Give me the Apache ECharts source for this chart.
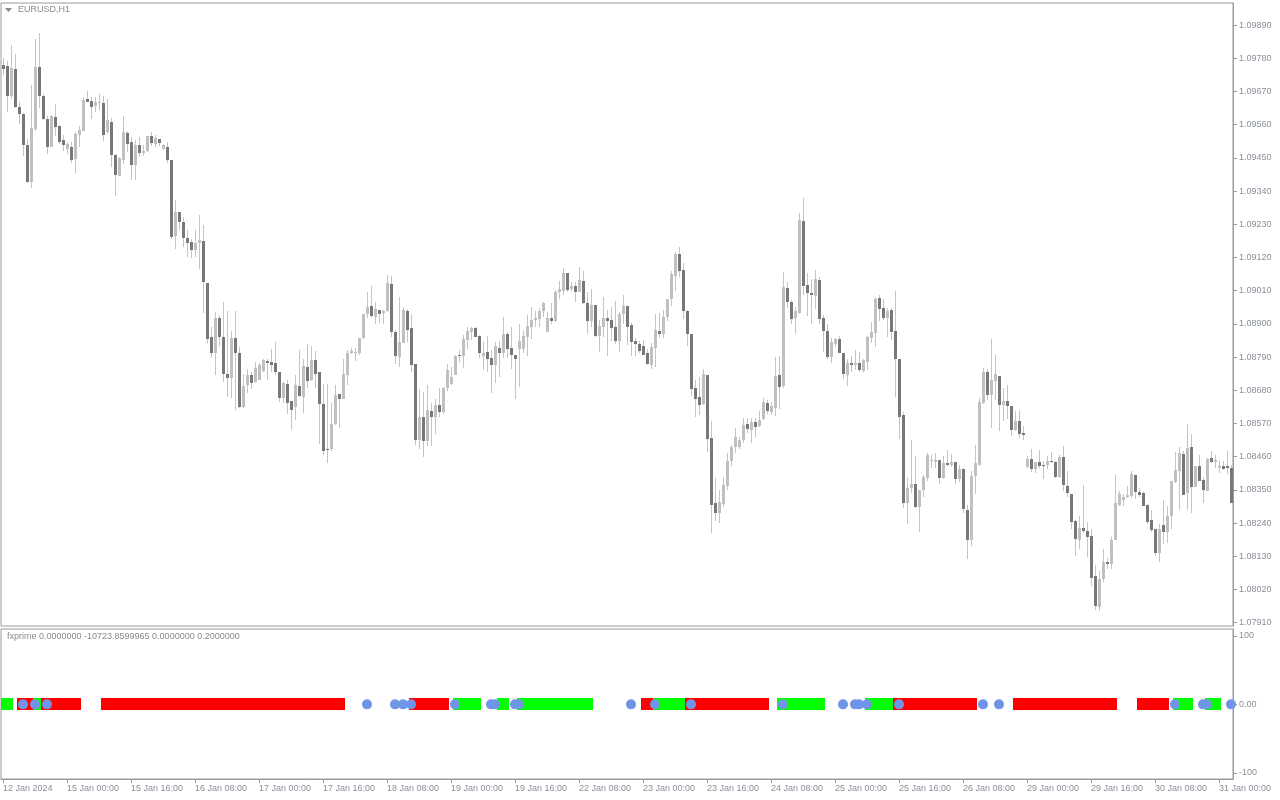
<!DOCTYPE html>
<html>
<head>
<meta charset="utf-8">
<script src="https://cdn.jsdelivr.net/npm/echarts@6/dist/echarts.min.js"></script>
<style>
html,body{margin:0;padding:0;background:#fff;}
#chart{width:1280px;height:800px;}
</style>
</head>
<body>
<div id="chart"></div>
<script>
// ---- Data (EURUSD H1, 12 Jan 2024 08:00 .. 31 Jan 2024 03:00) ----
const tickLabels = ['12 Jan 2024','15 Jan 00:00','15 Jan 16:00','16 Jan 08:00','17 Jan 00:00','17 Jan 16:00','18 Jan 08:00','19 Jan 00:00','19 Jan 16:00','22 Jan 08:00','23 Jan 00:00','23 Jan 16:00','24 Jan 08:00','25 Jan 00:00','25 Jan 16:00','26 Jan 08:00','29 Jan 00:00','29 Jan 16:00','30 Jan 08:00','31 Jan 00:00'];
const priceTicks = [1.07910,1.08020,1.08130,1.08240,1.08350,1.08460,1.08570,1.08680,1.08790,1.08900,1.09010,1.09120,1.09230,1.09340,1.09450,1.09560,1.09670,1.09780,1.09890];
const indicatorTicks = [-100, 0, 100];

const opens = [
1.09758,1.09754,1.09656,1.09744,1.09620,1.09595,1.09491,1.09371,1.09544,1.09751,
1.09656,1.09579,1.09487,1.09585,1.09556,1.09509,1.09480,1.09487,1.09446,1.09527,
1.09540,1.09645,1.09638,1.09623,1.09631,1.09633,1.09534,1.09569,1.09460,1.09391,
1.09443,1.09531,1.09504,1.09427,1.09491,1.09466,1.09473,1.09523,1.09496,1.09514,
1.09480,1.09487,1.09443,1.09191,1.09272,1.09236,1.09185,1.09171,1.09145,1.09169,
1.09176,1.09037,1.08856,1.08805,1.08920,1.08857,1.08734,1.08719,1.08853,1.08804,
1.08623,1.08696,1.08731,1.08709,1.08715,1.08745,1.08777,1.08774,1.08771,1.08741,
1.08656,1.08701,1.08644,1.08623,1.08694,1.08659,1.08757,1.08714,1.08781,1.08741,
1.08635,1.08486,1.08484,1.08569,1.08666,1.08652,1.08732,1.08802,1.08802,1.08805,
1.08853,1.08934,1.08959,1.08924,1.08947,1.08936,1.08941,1.09033,1.08873,1.08789,
1.08838,1.08943,1.08887,1.08768,1.08516,1.08592,1.08513,1.08612,1.08590,1.08632,
1.08608,1.08686,1.08701,1.08732,1.08797,1.08792,1.08845,1.08873,1.08887,1.08861,
1.08795,1.08807,1.08787,1.08764,1.08821,1.08805,1.08867,1.08820,1.08797,1.08817,
1.08817,1.08858,1.08891,1.08913,1.08917,1.08941,1.08874,1.08920,1.08911,1.09005,
1.09010,1.09070,1.09014,1.09026,1.09006,1.09043,1.08970,1.08908,1.08963,1.08861,
1.08891,1.08920,1.08912,1.08890,1.08844,1.08932,1.08959,1.08896,1.08844,1.08834,
1.08826,1.08804,1.08763,1.08821,1.08876,1.08867,1.08923,1.08981,1.09059,1.09131,
1.09078,1.08943,1.08866,1.08686,1.08657,1.08634,1.08730,1.08523,1.08307,1.08274,
1.08303,1.08363,1.08445,1.08493,1.08493,1.08515,1.08567,1.08548,1.08576,1.08562,
1.08584,1.08639,1.08608,1.08622,1.08730,1.08694,1.09019,1.08972,1.08919,1.08937,
1.09241,1.09028,1.09003,1.08993,1.09045,1.08920,1.08876,1.08791,1.08833,1.08849,
1.08804,1.08730,1.08771,1.08764,1.08771,1.08745,1.08774,1.08854,1.08870,1.08986,
1.08952,1.08921,1.08945,1.08876,1.08783,1.08598,1.08307,1.08355,1.08371,1.08294,
1.08351,1.08390,1.08445,1.08443,1.08449,1.08388,1.08440,1.08432,1.08441,1.08386,
1.08419,1.08283,1.08184,1.08396,1.08432,1.08639,1.08739,1.08664,1.08710,1.08727,
1.08631,1.08645,1.08627,1.08548,1.08579,1.08540,1.08426,1.08453,1.08420,1.08443,
1.08434,1.08433,1.08447,1.08443,1.08391,1.08460,1.08363,1.08337,1.08247,1.08183,
1.08224,1.08214,1.08197,1.08064,1.07962,1.08054,1.08112,1.08106,1.08184,1.08301,
1.08317,1.08325,1.08330,1.08400,1.08342,1.08338,1.08300,1.08250,1.08221,1.08142,
1.08234,1.08212,1.08262,1.08375,1.08411,1.08470,1.08339,1.08492,1.08361,1.08428,
1.08383,1.08347,1.08457,1.08442,1.08422,1.08430,1.08428,1.08424
];
const highs = [
1.09780,1.09771,1.09824,1.09794,1.09636,1.09598,1.09512,1.09691,1.09844,1.09865,
1.09660,1.09587,1.09592,1.09629,1.09559,1.09526,1.09504,1.09504,1.09537,1.09556,
1.09653,1.09672,1.09653,1.09653,1.09661,1.09655,1.09645,1.09581,1.09463,1.09452,
1.09587,1.09540,1.09518,1.09509,1.09518,1.09491,1.09524,1.09534,1.09526,1.09514,
1.09496,1.09504,1.09443,1.09311,1.09272,1.09255,1.09211,1.09180,1.09211,1.09261,
1.09228,1.09037,1.08889,1.08940,1.08928,1.08973,1.08944,1.08876,1.08944,1.08823,
1.08733,1.08750,1.08742,1.08772,1.08770,1.08783,1.08783,1.08818,1.08840,1.08741,
1.08709,1.08714,1.08644,1.08731,1.08814,1.08783,1.08834,1.08827,1.08810,1.08741,
1.08700,1.08700,1.08639,1.08696,1.08668,1.08785,1.08814,1.08821,1.08819,1.08853,
1.08934,1.09004,1.09026,1.08974,1.08947,1.08947,1.09062,1.09059,1.08880,1.08990,
1.08957,1.08948,1.08933,1.08768,1.08685,1.08675,1.08696,1.08638,1.08651,1.08688,
1.08692,1.08767,1.08758,1.08797,1.08814,1.08863,1.08891,1.08891,1.08889,1.08863,
1.08839,1.08859,1.08814,1.08841,1.08843,1.08923,1.08873,1.08889,1.08797,1.08900,
1.08880,1.08930,1.08957,1.08944,1.08952,1.08974,1.08940,1.08968,1.09012,1.09042,
1.09084,1.09070,1.09039,1.09040,1.09087,1.09075,1.09004,1.09016,1.08963,1.08913,
1.08990,1.08946,1.08956,1.08976,1.08940,1.08995,1.08959,1.08903,1.08852,1.08844,
1.08846,1.08818,1.08835,1.08934,1.08937,1.08945,1.08984,1.09075,1.09139,1.09153,
1.09100,1.08945,1.08866,1.08714,1.08725,1.08752,1.08730,1.08579,1.08390,1.08349,
1.08393,1.08473,1.08498,1.08554,1.08526,1.08589,1.08589,1.08587,1.08589,1.08611,
1.08653,1.08647,1.08642,1.08791,1.08793,1.09072,1.09039,1.08979,1.08956,1.09266,
1.09317,1.09069,1.09048,1.09080,1.09056,1.08929,1.08899,1.08852,1.08853,1.08860,
1.08804,1.08782,1.08793,1.08813,1.08807,1.08782,1.08860,1.08906,1.08990,1.08995,
1.08983,1.08953,1.08953,1.09008,1.08783,1.08608,1.08388,1.08515,1.08462,1.08351,
1.08399,1.08471,1.08465,1.08471,1.08449,1.08462,1.08482,1.08469,1.08443,1.08431,
1.08421,1.08300,1.08412,1.08498,1.08656,1.08754,1.08750,1.08849,1.08796,1.08727,
1.08686,1.08697,1.08627,1.08612,1.08616,1.08563,1.08463,1.08486,1.08442,1.08483,
1.08444,1.08463,1.08474,1.08444,1.08464,1.08496,1.08413,1.08337,1.08250,1.08265,
1.08365,1.08242,1.08219,1.08101,1.08082,1.08154,1.08125,1.08195,1.08400,1.08345,
1.08337,1.08363,1.08413,1.08400,1.08356,1.08342,1.08304,1.08284,1.08221,1.08236,
1.08317,1.08295,1.08380,1.08475,1.08492,1.08478,1.08568,1.08535,1.08430,1.08466,
1.08391,1.08455,1.08478,1.08464,1.08447,1.08447,1.08480,1.08433
];
const lows = [
1.09725,1.09603,1.09644,1.09615,1.09562,1.09457,1.09366,1.09351,1.09540,1.09616,
1.09575,1.09463,1.09485,1.09523,1.09496,1.09474,1.09463,1.09433,1.09401,1.09487,
1.09538,1.09634,1.09579,1.09603,1.09609,1.09507,1.09529,1.09421,1.09325,1.09390,
1.09430,1.09471,1.09377,1.09375,1.09454,1.09456,1.09471,1.09489,1.09485,1.09489,
1.09475,1.09432,1.09181,1.09147,1.09211,1.09156,1.09123,1.09117,1.09123,1.09081,
1.08937,1.08836,1.08786,1.08731,1.08827,1.08709,1.08659,1.08653,1.08613,1.08620,
1.08620,1.08672,1.08685,1.08703,1.08714,1.08742,1.08714,1.08742,1.08731,1.08641,
1.08639,1.08600,1.08550,1.08582,1.08659,1.08604,1.08687,1.08712,1.08687,1.08502,
1.08466,1.08438,1.08479,1.08564,1.08556,1.08650,1.08696,1.08800,1.08778,1.08797,
1.08851,1.08919,1.08924,1.08899,1.08903,1.08899,1.08939,1.08858,1.08767,1.08758,
1.08836,1.08841,1.08739,1.08497,1.08484,1.08460,1.08495,1.08495,1.08535,1.08593,
1.08602,1.08676,1.08697,1.08730,1.08772,1.08755,1.08817,1.08847,1.08855,1.08788,
1.08747,1.08739,1.08672,1.08704,1.08723,1.08786,1.08786,1.08750,1.08650,1.08692,
1.08803,1.08795,1.08851,1.08891,1.08889,1.08924,1.08872,1.08900,1.08906,1.08981,
1.08996,1.09007,1.09010,1.08974,1.09004,1.08965,1.08866,1.08891,1.08858,1.08808,
1.08858,1.08792,1.08844,1.08833,1.08807,1.08899,1.08831,1.08794,1.08794,1.08802,
1.08796,1.08763,1.08750,1.08758,1.08854,1.08852,1.08909,1.08959,1.09008,1.09056,
1.08915,1.08826,1.08661,1.08592,1.08597,1.08632,1.08476,1.08208,1.08248,1.08239,
1.08294,1.08349,1.08430,1.08473,1.08487,1.08504,1.08537,1.08504,1.08526,1.08559,
1.08581,1.08601,1.08597,1.08594,1.08619,1.08686,1.08953,1.08899,1.08867,1.08932,
1.08997,1.08927,1.08898,1.08948,1.08899,1.08807,1.08785,1.08771,1.08824,1.08802,
1.08716,1.08695,1.08741,1.08747,1.08741,1.08741,1.08747,1.08835,1.08822,1.08909,
1.08912,1.08857,1.08848,1.08658,1.08519,1.08289,1.08236,1.08338,1.08291,1.08209,
1.08327,1.08379,1.08423,1.08421,1.08369,1.08385,1.08429,1.08427,1.08371,1.08377,
1.08275,1.08120,1.08165,1.08335,1.08430,1.08634,1.08647,1.08556,1.08647,1.08546,
1.08579,1.08584,1.08529,1.08546,1.08523,1.08514,1.08424,1.08408,1.08406,1.08422,
1.08386,1.08419,1.08439,1.08389,1.08389,1.08345,1.08328,1.08221,1.08132,1.08155,
1.08206,1.08126,1.08032,1.07953,1.07949,1.08045,1.08088,1.08088,1.08184,1.08295,
1.08295,1.08322,1.08322,1.08319,1.08325,1.08295,1.08237,1.08212,1.08132,1.08112,
1.08170,1.08173,1.08221,1.08372,1.08284,1.08334,1.08284,1.08273,1.08358,1.08380,
1.08308,1.08346,1.08439,1.08422,1.08406,1.08417,1.08403,1.08306
];
const closes = [
1.09744,1.09656,1.09747,1.09620,1.09594,1.09491,1.09371,1.09549,1.09751,1.09656,
1.09578,1.09487,1.09589,1.09553,1.09504,1.09491,1.09496,1.09444,1.09530,1.09542,
1.09642,1.09636,1.09620,1.09635,1.09636,1.09526,1.09576,1.09460,1.09393,1.09450,
1.09534,1.09496,1.09427,1.09493,1.09465,1.09474,1.09523,1.09498,1.09517,1.09500,
1.09492,1.09443,1.09189,1.09272,1.09236,1.09183,1.09167,1.09145,1.09169,1.09179,
1.09040,1.08850,1.08805,1.08920,1.08855,1.08734,1.08719,1.08853,1.08802,1.08623,
1.08694,1.08732,1.08705,1.08753,1.08765,1.08781,1.08771,1.08764,1.08742,1.08656,
1.08705,1.08639,1.08616,1.08698,1.08662,1.08761,1.08712,1.08781,1.08734,1.08633,
1.08480,1.08484,1.08569,1.08665,1.08652,1.08734,1.08805,1.08810,1.08808,1.08853,
1.08934,1.08956,1.08926,1.08949,1.08933,1.08944,1.09037,1.08874,1.08792,1.08840,
1.08947,1.08880,1.08765,1.08516,1.08592,1.08513,1.08615,1.08590,1.08632,1.08608,
1.08686,1.08747,1.08724,1.08794,1.08792,1.08850,1.08877,1.08885,1.08857,1.08802,
1.08804,1.08784,1.08764,1.08825,1.08802,1.08867,1.08818,1.08797,1.08782,1.08843,
1.08860,1.08893,1.08913,1.08921,1.08943,1.08969,1.08919,1.08911,1.09007,1.09016,
1.09070,1.09012,1.09026,1.09006,1.09046,1.08970,1.08911,1.08964,1.08861,1.08893,
1.08920,1.08908,1.08887,1.08844,1.08933,1.08959,1.08890,1.08841,1.08834,1.08811,
1.08796,1.08768,1.08824,1.08879,1.08867,1.08923,1.08981,1.09066,1.09131,1.09076,
1.08943,1.08866,1.08685,1.08652,1.08631,1.08733,1.08519,1.08300,1.08274,1.08311,
1.08366,1.08445,1.08493,1.08524,1.08515,1.08565,1.08551,1.08576,1.08558,1.08583,
1.08642,1.08612,1.08627,1.08727,1.08692,1.09023,1.08971,1.08917,1.08942,1.09244,
1.09025,1.09001,1.08996,1.09048,1.08917,1.08876,1.08791,1.08839,1.08849,1.08804,
1.08735,1.08769,1.08763,1.08770,1.08747,1.08780,1.08857,1.08873,1.08983,1.08949,
1.08920,1.08942,1.08874,1.08783,1.08592,1.08307,1.08355,1.08369,1.08294,1.08351,
1.08391,1.08465,1.08449,1.08449,1.08390,1.08438,1.08432,1.08442,1.08386,1.08419,
1.08287,1.08184,1.08396,1.08438,1.08642,1.08739,1.08664,1.08714,1.08733,1.08631,
1.08645,1.08629,1.08548,1.08579,1.08535,1.08531,1.08453,1.08420,1.08442,1.08430,
1.08428,1.08447,1.08441,1.08394,1.08460,1.08365,1.08339,1.08242,1.08186,1.08223,
1.08215,1.08195,1.08059,1.07965,1.08054,1.08110,1.08105,1.08184,1.08306,1.08337,
1.08325,1.08332,1.08403,1.08342,1.08334,1.08297,1.08243,1.08217,1.08142,1.08219,
1.08212,1.08264,1.08380,1.08417,1.08472,1.08334,1.08489,1.08361,1.08428,1.08381,
1.08350,1.08453,1.08441,1.08450,1.08428,1.08420,1.08422,1.08306
];

// fxprime indicator: runs of bars (start index, end index) and signal dots (bar index)
const greenRuns = [[0,2],[8,9],[113,119],[124,126],[129,147],[163,170],[194,205],[216,222],[293,297],[301,304]];
const redRuns = [[4,7],[10,19],[25,85],[102,111],[160,162],[171,191],[223,243],[253,278],[284,291]];
const dotBars = [5,8,11,91,98,100,102,113,122,123,128,129,157,163,172,195,210,213,214,216,224,245,249,293,300,301,307];

// ---- Chart ----
const UP = '#c0c0c0', DOWN = '#787878', WICK = '#c4c4c4';
const FRAME = '#9a9a9a', TXT = '#8a8f99', FONT = "'Liberation Sans', Arial, sans-serif";
const categories = opens.map((_, i) => String(i));
const candleData = opens.map((o, i) => [i, o, highs[i], lows[i], closes[i]]);

function renderCandle(params, api) {
  const i = api.value(0);
  const o = api.value(1), h = api.value(2), l = api.value(3), c = api.value(4);
  const pO = api.coord([i, o]), pC = api.coord([i, c]);
  const pH = api.coord([i, h]), pL = api.coord([i, l]);
  const cx = Math.round(pO[0]);
  const top = Math.round(Math.min(pO[1], pC[1]));
  const bot = Math.round(Math.max(pO[1], pC[1]));
  const yh = Math.round(pH[1]), yl = Math.round(pL[1]);
  return {
    type: 'group',
    children: [
      { type: 'rect', shape: { x: cx, y: yh, width: 1, height: Math.max(1, yl - yh) }, style: { fill: WICK } },
      { type: 'rect', shape: { x: cx - 1, y: top, width: 3, height: Math.max(1, bot - top) }, style: { fill: c >= o ? UP : DOWN } }
    ]
  };
}
function runRenderer(color) {
  return function (params, api) {
    const p1 = api.coord([api.value(0), 0]);
    const p2 = api.coord([api.value(1), 0]);
    const bw = api.size([1, 0])[0];
    const x1 = Math.round(p1[0] - bw / 2), x2 = Math.round(p2[0] + bw / 2);
    const yc = Math.round(p1[1]);
    return { type: 'rect', shape: { x: x1, y: yc - 6, width: x2 - x1, height: 12 }, style: { fill: color } };
  };
}

const chart = echarts.init(document.getElementById('chart'), null, { renderer: 'canvas' });
const isTick = (idx) => idx % 16 === 0;
chart.setOption({
  animation: false,
  backgroundColor: '#ffffff',
  grid: [
    { left: 1, top: 3, width: 1232, height: 623, show: true, borderColor: FRAME, borderWidth: 1, backgroundColor: 'transparent' },
    { left: 1, top: 629, width: 1232, height: 150, show: true, borderColor: FRAME, borderWidth: 1, backgroundColor: 'transparent' }
  ],
  xAxis: [
    { gridIndex: 0, type: 'category', data: categories, boundaryGap: true,
      axisLine: { show: false, onZero: false }, axisTick: { show: false }, axisLabel: { show: false }, splitLine: { show: false } },
    { gridIndex: 1, type: 'category', data: categories, boundaryGap: true, position: 'bottom',
      axisLine: { show: true, onZero: false, lineStyle: { color: FRAME, width: 1 } },
      axisTick: { show: true, interval: isTick, alignWithLabel: true, length: 4, lineStyle: { color: FRAME } },
      axisLabel: { show: true, interval: isTick, align: 'left', margin: 5, fontSize: 9, fontFamily: FONT, color: TXT,
        formatter: (v, idx) => tickLabels[Math.round(idx / 16)] },
      splitLine: { show: false } }
  ],
  yAxis: [
    { gridIndex: 0, type: 'value', position: 'right', min: 1.07899, max: 1.09963, scale: true,
      axisLine: { show: true, onZero: false, lineStyle: { color: FRAME } },
      axisTick: { show: true, length: 4, inside: false, customValues: priceTicks, lineStyle: { color: FRAME } },
      axisLabel: { show: true, customValues: priceTicks, margin: 6, fontSize: 9, fontFamily: FONT, color: TXT,
        formatter: (v) => v.toFixed(5) },
      splitLine: { show: false } },
    { gridIndex: 1, type: 'value', position: 'right', min: -109, max: 110,
      axisLine: { show: true, onZero: false, lineStyle: { color: FRAME } },
      axisTick: { show: true, length: 4, customValues: indicatorTicks, lineStyle: { color: FRAME } },
      axisLabel: { show: true, customValues: indicatorTicks, margin: 6, fontSize: 9, fontFamily: FONT, color: TXT,
        formatter: (v) => (v === 0 ? '0.00' : String(v)) },
      splitLine: { show: false } }
  ],
  series: [
    { type: 'custom', name: 'EURUSD', xAxisIndex: 0, yAxisIndex: 0, data: candleData,
      encode: { x: 0, y: [1, 2, 3, 4] }, renderItem: renderCandle, silent: true },
    { type: 'custom', name: 'up', xAxisIndex: 1, yAxisIndex: 1, data: greenRuns.map(r => [r[0], r[1], 0]),
      encode: { x: [0, 1], y: 2 }, renderItem: runRenderer('#00ff00'), silent: true, z: 2 },
    { type: 'custom', name: 'down', xAxisIndex: 1, yAxisIndex: 1, data: redRuns.map(r => [r[0], r[1], 0]),
      encode: { x: [0, 1], y: 2 }, renderItem: runRenderer('#ff0000'), silent: true, z: 2 },
    { type: 'scatter', name: 'signal', xAxisIndex: 1, yAxisIndex: 1, data: dotBars.map(b => [b, 0]),
      symbol: 'circle', symbolSize: 10, itemStyle: { color: '#6f95e8', opacity: 1 }, silent: true, z: 3 }
  ],
  graphic: [
    { type: 'polygon', shape: { points: [[5, 8], [12, 8], [8.5, 12]] }, style: { fill: '#8a8a8a' } },
    { type: 'text', left: 18, top: 5, style: { text: 'EURUSD,H1', fill: '#8a8a8a', font: "9px 'Liberation Sans', Arial, sans-serif" } },
    { type: 'text', left: 7, top: 632, style: { text: 'fxprime 0.0000000 -10723.8599965 0.0000000 0.2000000', fill: '#8a8a8a', font: "9px 'Liberation Sans', Arial, sans-serif" } }
  ]
});
</script>
</body>
</html>
